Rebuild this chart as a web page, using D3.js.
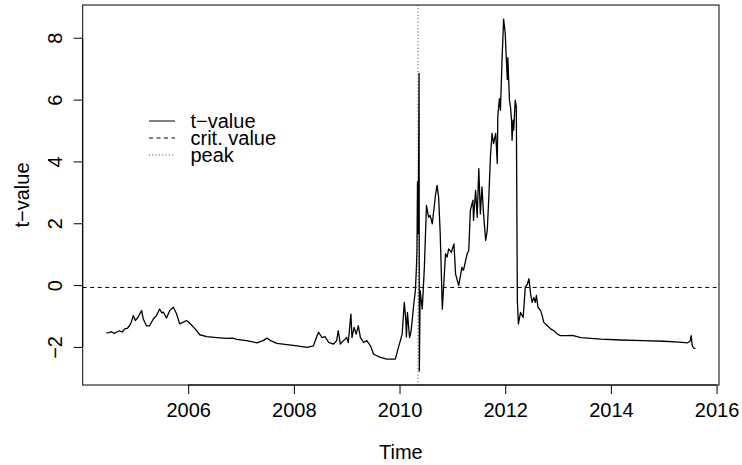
<!DOCTYPE html>
<html><head><meta charset="utf-8">
<script src="https://cdn.jsdelivr.net/npm/d3@7"></script>
<style>
html,body{margin:0;padding:0;background:#fff;}
svg{display:block;font-family:"Liberation Sans",Arial,Helvetica,sans-serif;}
</style></head>
<body><svg id="chart" width="742" height="465"></svg>
<script>
const dates = [2004.45,2004.50,2004.55,2004.60,2004.65,2004.70,2004.75,2004.80,2004.85,2004.89,2004.93,2004.96,2005.00,2005.05,2005.09,2005.12,2005.15,2005.21,2005.27,2005.34,2005.40,2005.46,2005.50,2005.53,2005.59,2005.65,2005.72,2005.78,2005.84,2005.90,2005.97,2006.03,2006.13,2006.22,2006.35,2006.54,2006.73,2006.85,2006.92,2007.11,2007.30,2007.42,2007.49,2007.55,2007.68,2007.87,2008.06,2008.25,2008.37,2008.44,2008.47,2008.53,2008.59,2008.66,2008.75,2008.81,2008.84,2008.88,2008.94,2009.00,2009.03,2009.08,2009.10,2009.14,2009.18,2009.22,2009.26,2009.32,2009.38,2009.45,2009.51,2009.64,2009.76,2009.89,2009.92,2009.98,2010.05,2010.09,2010.12,2010.13,2010.15,2010.19,2010.22,2010.27,2010.30,2010.32,2010.33,2010.34,2010.355,2010.37,2010.375,2010.39,2010.43,2010.47,2010.51,2010.55,2010.58,2010.62,2010.68,2010.71,2010.74,2010.77,2010.81,2010.87,2010.90,2010.93,2010.98,2011.03,2011.06,2011.12,2011.18,2011.21,2011.28,2011.31,2011.34,2011.39,2011.40,2011.44,2011.47,2011.50,2011.53,2011.56,2011.59,2011.63,2011.66,2011.69,2011.72,2011.75,2011.78,2011.82,2011.85,2011.86,2011.89,2011.91,2011.94,2011.97,2012.00,2012.02,2012.04,2012.05,2012.08,2012.10,2012.12,2012.13,2012.15,2012.16,2012.19,2012.21,2012.23,2012.25,2012.29,2012.34,2012.38,2012.42,2012.45,2012.48,2012.51,2012.54,2012.57,2012.59,2012.62,2012.67,2012.70,2012.73,2012.80,2012.86,2012.92,2012.99,2013.05,2013.18,2013.27,2013.43,2013.81,2014.19,2014.60,2015.00,2015.30,2015.45,2015.50,2015.52,2015.54,2015.57,2015.60];
const tvals = [-1.53,-1.52,-1.49,-1.55,-1.50,-1.46,-1.50,-1.40,-1.38,-1.30,-1.15,-0.97,-1.13,-1.03,-0.90,-0.81,-1.08,-1.30,-1.30,-1.08,-0.97,-0.76,-0.88,-0.86,-1.05,-0.81,-0.70,-0.91,-1.24,-1.19,-1.13,-1.22,-1.40,-1.59,-1.65,-1.68,-1.71,-1.70,-1.74,-1.78,-1.85,-1.78,-1.70,-1.77,-1.87,-1.91,-1.95,-2.00,-1.95,-1.62,-1.51,-1.68,-1.65,-1.84,-1.89,-1.78,-1.46,-1.89,-1.78,-1.68,-1.84,-0.92,-1.68,-1.35,-1.57,-1.30,-1.68,-1.84,-1.78,-1.95,-2.22,-2.32,-2.38,-2.38,-2.38,-2.00,-1.57,-0.54,-1.13,-1.66,-0.87,-1.68,-1.46,-0.59,-0.16,0.59,1.13,3.35,1.68,6.86,-2.76,-0.16,-0.76,0.59,2.59,2.21,2.27,2.00,2.92,3.24,2.86,1.68,-0.76,1.03,0.92,1.19,1.08,1.35,0.38,0.00,0.59,0.49,1.03,1.13,2.43,2.76,2.11,3.08,2.21,3.78,2.32,3.19,2.32,1.46,1.78,2.86,4.16,4.92,4.59,4.92,3.95,5.46,6.05,5.67,7.30,8.62,8.16,7.37,6.67,7.37,6.00,5.78,5.35,4.70,5.35,5.03,6.00,5.78,-0.49,-1.24,-0.87,-1.03,-0.05,0.05,0.22,-0.27,-0.54,-0.38,-0.54,-0.32,-0.70,-0.81,-0.97,-1.19,-1.30,-1.40,-1.46,-1.57,-1.62,-1.62,-1.61,-1.68,-1.73,-1.76,-1.78,-1.80,-1.83,-1.85,-1.80,-1.62,-1.95,-2.02,-2.03];
const critValue = -0.06;
const peakDate = 2010.35;
const xTicks = [2006,2008,2010,2012,2014,2016];
const yTicks = [-2,0,2,4,6,8];
const legendLabels = ["t\u2212value","crit. value","peak"];
const xTitle = "Time", yTitle = "t\u2212value";

const svg = d3.select("#chart");
const L = 82.7, R = 719, T = 5, B = 385;
const xr = d3.extent(dates), yr = d3.extent(tvals);
const xp = (xr[1]-xr[0])*0.04, yp = (yr[1]-yr[0])*0.04;
const x = d3.scaleLinear().domain([xr[0]-xp, xr[1]+xp]).range([L, R]);
const y = d3.scaleLinear().domain([yr[0]-yp, yr[1]+yp]).range([B, T]);
const fs = 20;
const ff = "Liberation Sans, Arial, sans-serif";

// crit line
svg.append("line").attr("x1",L).attr("x2",R).attr("y1",y(critValue)).attr("y2",y(critValue))
  .attr("stroke","#000").attr("stroke-width",1).attr("stroke-dasharray","4,3.5");
// peak line
svg.append("line").attr("x1",x(peakDate)).attr("x2",x(peakDate)).attr("y1",T).attr("y2",B)
  .attr("stroke","#444").attr("stroke-width",1).attr("stroke-dasharray","1,2.3");
// series
const pts = dates.map((d,i)=>[d,tvals[i]]);
svg.append("path").datum(pts)
  .attr("d", d3.line().x(d=>x(d[0])).y(d=>y(d[1])))
  .attr("fill","none").attr("stroke","#000").attr("stroke-width",1.3).attr("stroke-linejoin","round");

// box
svg.append("rect").attr("x",L).attr("y",T).attr("width",R-L).attr("height",B-T)
  .attr("fill","none").attr("stroke","#000").attr("stroke-width",1);

// x axis
const xa = svg.append("g").attr("transform",`translate(0,${B})`)
  .call(d3.axisBottom(x).tickValues(xTicks).tickFormat(d3.format("d")).tickSize(9).tickPadding(9));
xa.select(".domain").attr("d",`M${x(xTicks[0])},0H${x(xTicks[xTicks.length-1])}`);
xa.selectAll("text").attr("font-size",fs).attr("font-family",ff).attr("fill","#000");
// y axis
const ya = svg.append("g").attr("transform",`translate(${L},0)`)
  .call(d3.axisLeft(y).tickValues(yTicks).tickFormat(d=>d<0?"\u2212"+Math.abs(d):d).tickSize(9));
ya.select(".domain").attr("d",`M0,${y(yTicks[0])}V${y(yTicks[yTicks.length-1])}`);
ya.selectAll("text").attr("font-size",fs).attr("font-family",ff).attr("fill","#000")
  .attr("x",null).attr("dy",null).attr("text-anchor","middle")
  .attr("transform",function(d){return `translate(-21,${y(d)}) rotate(-90)`;}).attr("y",0);
ya.selectAll(".tick").attr("transform",null);
ya.selectAll(".tick line").attr("y1",d=>y(d)).attr("y2",d=>y(d));

// titles
svg.append("text").attr("x",(L+R)/2).attr("y",459).attr("text-anchor","middle").attr("font-size",fs).text(xTitle);
svg.append("text").attr("transform",`translate(29,${(T+B)/2}) rotate(-90)`).attr("text-anchor","middle").attr("font-size",fs).text(yTitle);

// legend
const lg = svg.append("g");
const dashes = [null,"4,3.5","1,2.3"], cols = ["#000","#000","#444"];
legendLabels.forEach((lab,i)=>{
  const ly = 121 + i*17;
  lg.append("line").attr("x1",149).attr("x2",175).attr("y1",ly).attr("y2",ly)
    .attr("stroke",cols[i]).attr("stroke-width",1).attr("stroke-dasharray",dashes[i]);
  lg.append("text").attr("x",190.5).attr("y",ly).attr("dy","0.35em").attr("font-size",fs).text(lab);
});
</script></body></html>
